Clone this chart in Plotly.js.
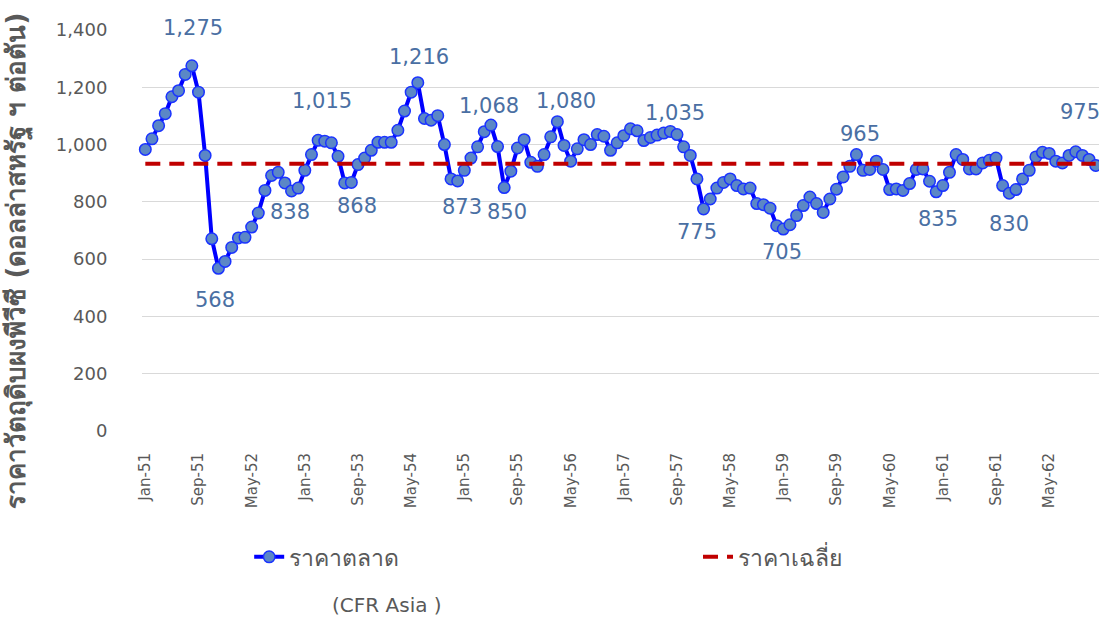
<!DOCTYPE html>
<html>
<head>
<meta charset="utf-8">
<script src="https://cdn.plot.ly/plotly-3.0.1.min.js"></script>
<style>html,body{margin:0;padding:0;background:#fff;}#chart{width:1099px;height:617px;}</style>
</head>
<body>
<div id="chart"></div>
<script>
// ---- DATA ----
const monthNames = ["Jan","Feb","Mar","Apr","May","Jun","Jul","Aug","Sep","Oct","Nov","Dec"];
const years = ["51","52","53","54","55","56","57","58","59","60","61","62"];
const months = [];
years.forEach(y => monthNames.forEach(m => months.push(m + "-" + y)));

const marketPrice = [
  983,1020,1066,1108,1167,1188,1245,1275,1183,962,671,568,
  592,641,674,676,712,761,840,892,903,866,838,848,
  910,965,1015,1012,1006,959,866,868,930,953,980,1008,
  1008,1008,1050,1117,1183,1216,1091,1085,1101,1000,880,873,
  910,953,992,1045,1068,993,850,907,988,1017,938,924,
  965,1027,1080,997,942,985,1017,1000,1035,1029,980,1006,
  1031,1055,1048,1014,1025,1033,1040,1046,1035,992,962,880,
  775,810,848,868,880,857,845,848,794,790,778,717,
  705,720,752,787,817,794,763,810,844,887,924,965,
  910,913,942,913,843,845,840,864,913,915,872,835,
  857,903,965,948,915,915,936,945,953,857,830,843,
  880,910,957,973,969,942,936,962,975,962,948,927
];
const averagePrice = 933;

const yTickVals = [0,200,400,600,800,1000,1200,1400];
const yTickText = ["0","200","400","600","800","1,000","1,200","1,400"];
const xTickIdx = [0,8,16,24,32,40,48,56,64,72,80,88,96,104,112,120,128,136];

// labelled points: index, text
const labelIdx  = [7,11,22,26,31,41,47,52,54,62,80,84,96,107,119,130,140];
const labelText = ["1,275","568","838","1,015","868","1,216","873","1,068","850","1,080","1,035","775","705","965","835","830","975"];
// label offsets (px)
const labelShift = [[1,38],[-3,-32],[-2,-21],[4,39],[6,-24],[1,26],[4,-26],[-2,19],[3,-24],[9,21],[-2,22],[-7,-23],[-1,-23],[4,21],[2,-27],[0,-31],[4,40]];

const seriesName = ["ราคาตลาด", "ราคาเฉลี่ย"];
const yTitle = "ราคาวัตถุดิบผงพีวีซี (ดอลล่าสหรัฐ ฯ ต่อตัน)";
const subNote = "(CFR Asia )";

// ---- CHART ----
const FONT = "DejaVu Sans, Tahoma, sans-serif";
const GREY = "#595959";
const LABELC = "#4a6fa3";

const traces = [
  {
    x: months, y: marketPrice, type: "scatter", mode: "lines+markers",
    name: seriesName[0], legend: "legend",
    line: {color: "#0000ff", width: 4},
    marker: {size: 11.5, color: "#5b87c6", line: {color: "#1a33ff", width: 1.5}},
    cliponaxis: false
  },
  {
    x: months, y: months.map(() => averagePrice), type: "scatter", mode: "lines",
    name: seriesName[1], legend: "legend2",
    line: {color: "#c00000", width: 4, dash: "15px,9px"}
  }
];

const annotations = labelIdx.map((idx, k) => ({
  x: months[idx], y: marketPrice[idx], xref: "x", yref: "y",
  text: labelText[k], showarrow: false,
  xshift: labelShift[k][0], yshift: labelShift[k][1],
  font: {family: FONT, size: 21, color: LABELC}
}));
annotations.push({
  xref: "paper", yref: "paper", x: -0.1296, y: 0.425, xanchor: "center", yanchor: "middle",
  text: "<b>" + yTitle + "</b>", textangle: -90, showarrow: false,
  font: {family: FONT, size: 26, color: GREY}
});
annotations.push({
  xref: "paper", yref: "paper", x: 0.1964, y: -0.434, xanchor: "left", yanchor: "middle",
  text: subNote, showarrow: false,
  font: {family: FONT, size: 20, color: GREY}
});

const legendCommon = {
  orientation: "h", yanchor: "middle", xanchor: "left", y: -0.314,
  bgcolor: "rgba(0,0,0,0)",
  font: {family: FONT, size: 23, color: GREY}
};

const layout = {
  width: 1099, height: 617,
  margin: {l: 142, r: 0, t: 30, b: 186},
  paper_bgcolor: "#ffffff", plot_bgcolor: "#ffffff",
  showlegend: true,
  legend: Object.assign({}, legendCommon, {x: 0.112}),
  legend2: Object.assign({}, legendCommon, {x: 0.581}),
  xaxis: {
    type: "category", range: [-0.5, 143.5],
    tickmode: "array", tickvals: xTickIdx.map(i => months[i]), ticktext: xTickIdx.map(i => months[i]),
    tickangle: -90, ticks: "outside", ticklen: 15, tickcolor: "rgba(0,0,0,0)",
    tickfont: {family: FONT, size: 15, color: GREY},
    showgrid: false, zeroline: false, showline: false
  },
  yaxis: {
    range: [0, 1400], tickmode: "array", tickvals: yTickVals, ticktext: yTickText,
    ticks: "outside", ticklen: 30, tickcolor: "rgba(0,0,0,0)",
    tickfont: {family: FONT, size: 18, color: GREY},
    showgrid: true, gridcolor: "#d9d9d9", gridwidth: 1, zeroline: false, showline: false
  },
  annotations: annotations
};

Plotly.newPlot("chart", traces, layout, {displayModeBar: false, staticPlot: true});
</script>
</body>
</html>
